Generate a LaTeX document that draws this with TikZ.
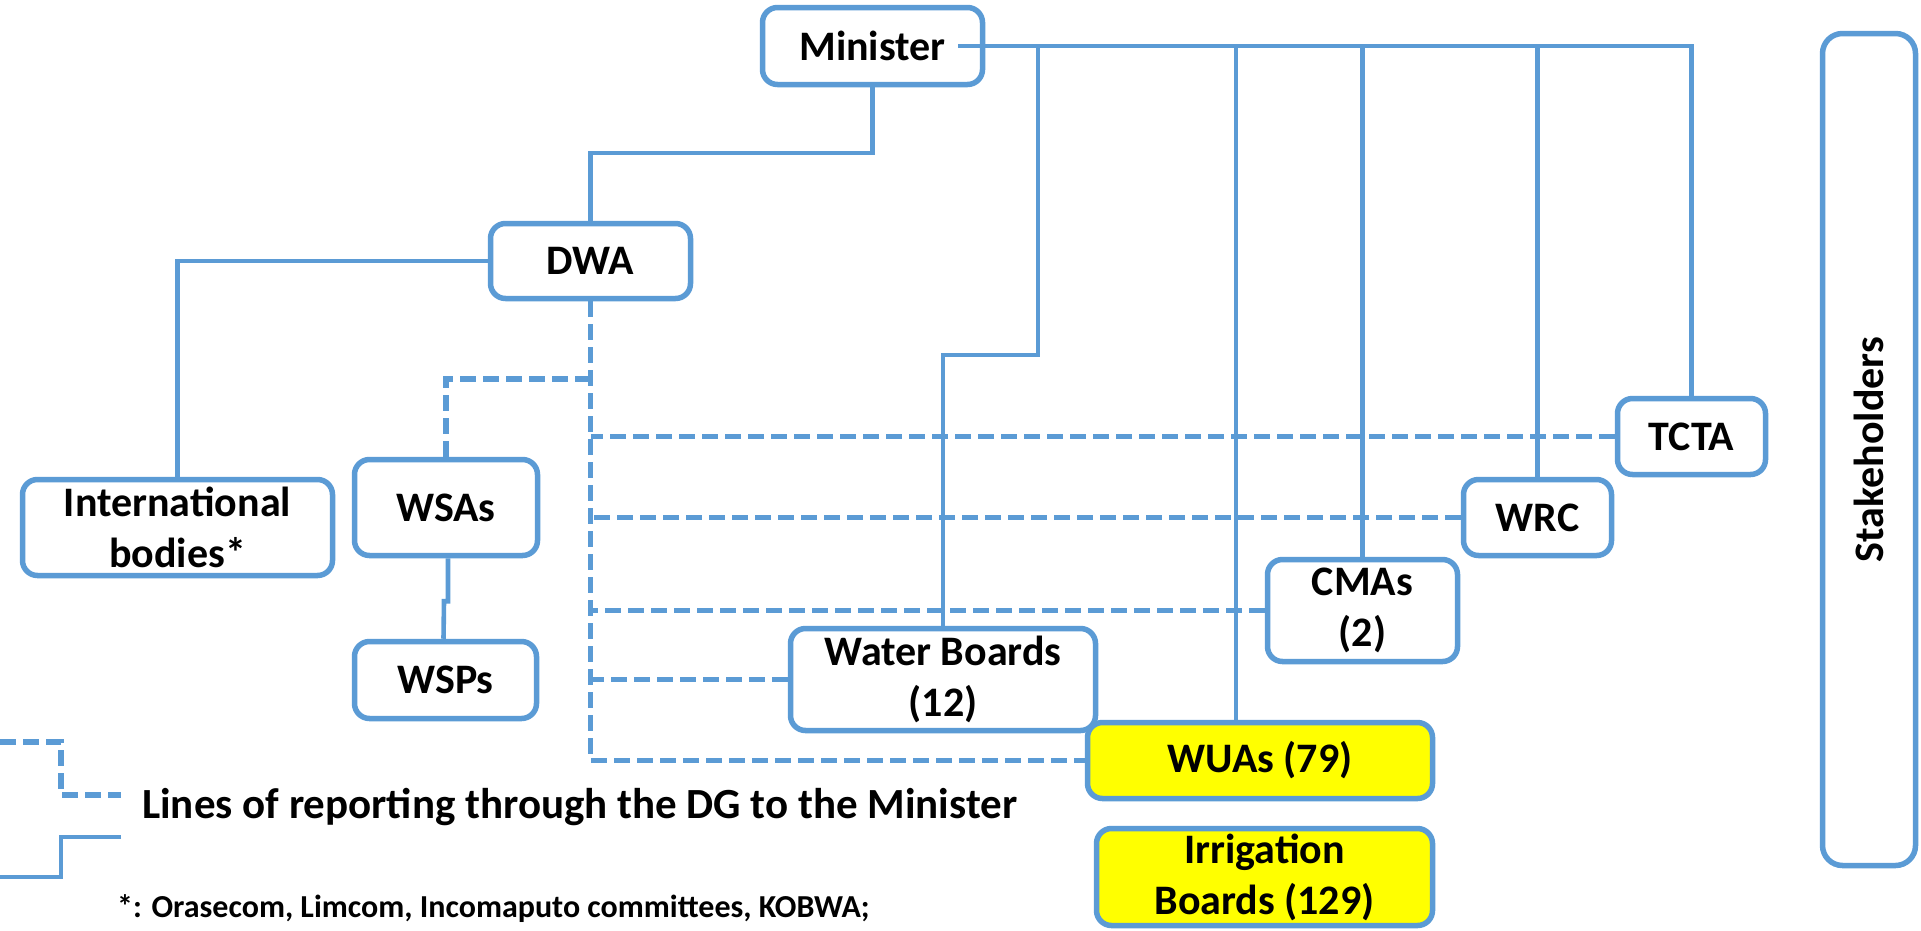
\documentclass[tikz,border=0pt]{standalone}
\usepackage{fontspec}
\setmainfont{Carlito}
\usetikzlibrary{calc}
\definecolor{lblue}{HTML}{5B9BD5}
\definecolor{ybox}{HTML}{FFFF00}
\begin{document}
\begin{tikzpicture}[x=1pt,y=-1pt,
 box/.style={draw=lblue, line width=5.5pt, rounded corners=15pt, fill=white, inner sep=0pt, align=center, font=\fontsize{42}{51}\selectfont\bfseries},
 ybx/.style={box, fill=ybox},
 conn/.style={draw=lblue, line width=4.6pt},
 rep/.style={draw=lblue, line width=5.5pt, dash pattern=on 16pt off 7pt},
]
\useasboundingbox (0,0) rectangle (1921,930);

% nodes
\node[box, minimum width=220pt, minimum height=77pt] (min) at (872.5,46) {Minister};
\node[box, minimum width=200pt, minimum height=75pt] (dwa) at (590.5,261) {DWA};
\node[box, minimum width=310pt, minimum height=96pt] (intl) at (177.5,527.5) {International\\bodies*};
\node[box, minimum width=183pt, minimum height=96pt] (wsa) at (446,507.5) {WSAs};
\node[box, minimum width=182pt, minimum height=77pt] (wsp) at (445.5,680) {WSPs};
\node[box, minimum width=148pt, minimum height=76pt] (tcta) at (1691.5,436.5) {TCTA};
\node[box, minimum width=148pt, minimum height=76pt] (wrc) at (1537.5,517.5) {WRC};
\node[box, minimum width=190pt, minimum height=102pt] (cma) at (1362.5,610.5) {CMAs\\(2)};
\node[box, minimum width=305pt, minimum height=102pt] (wb) at (943,679.5) {Water Boards\\(12)};
\node[ybx, minimum width=345pt, minimum height=76pt] (wua) at (1260,760.5) {WUAs (79)};
\node[ybx, minimum width=336pt, minimum height=97pt] (irr) at (1264.5,877) {Irrigation\\Boards (129)};
\node[box, rounded corners=20pt, rotate=90, minimum width=832pt, minimum height=93pt] (stk) at (1869,449.5) {Stakeholders};

% helper coordinates
\coordinate (m2d) at (0,153);
\coordinate (wbbend) at (1038,355);
\coordinate (br) at (0,379);
\coordinate (wuatop) at ([xshift=-24pt]wua.north);
\coordinate (busstart) at ([xshift=-27pt]min.east);

% solid lines
\draw[conn] (busstart) -| (tcta.north);
\draw[conn] (wb.north) |- (wbbend) -- (wbbend |- min.east);
\draw[conn] (wuatop) -- (wuatop |- min.east);
\draw[conn] (cma.north) -- (cma.north |- min.east);
\draw[conn] (wrc.north) -- (wrc.north |- min.east);
\draw[conn] (min.south) -- (min.south |- m2d) -| (dwa.north);
\draw[conn] (dwa.west) -| (intl.north);
\draw[conn] ([xshift=2pt]wsa.south) -- ++(0,43) -- ++(-4,0) -- ([xshift=-2pt]wsp.north);

% dashed reporting lines
\draw[rep] (dwa.south) -- (dwa.south |- wua.west) -- (wua.west);
\draw[rep] (wsa.north) |- (br -| dwa.south);
\draw[rep] (tcta.west) -- (tcta.west -| dwa.south);
\draw[rep] (wrc.west) -- (wrc.west -| dwa.south);
\draw[rep] (cma.west) -- (cma.west -| dwa.south);
\draw[rep] (wb.west) -- (wb.west -| dwa.south);

% legend
\coordinate (la) at (0,742);
\coordinate (lb) at (61,742);
\coordinate (lc) at (61,795);
\coordinate (ld) at (121,795);
\draw[rep] (la) -- (lb) -- (lc) -- (ld);
\coordinate (sa) at (121,837);
\coordinate (sb) at (61,837);
\coordinate (sc) at (61,877);
\coordinate (sd) at (0,877);
\draw[conn] (sa) -- (sb) -- (sc) -- (sd);
\node[anchor=base west, inner sep=0pt, font=\fontsize{43}{50}\selectfont\bfseries] (legtxt) at (142,818) {Lines of reporting through the DG to the Minister};
\node[anchor=base west, inner sep=0pt, font=\fontsize{32}{37}\selectfont\bfseries] (foot) at (117,917) {*: Orasecom, Limcom, Incomaputo committees, KOBWA;};
\end{tikzpicture}
\end{document}
